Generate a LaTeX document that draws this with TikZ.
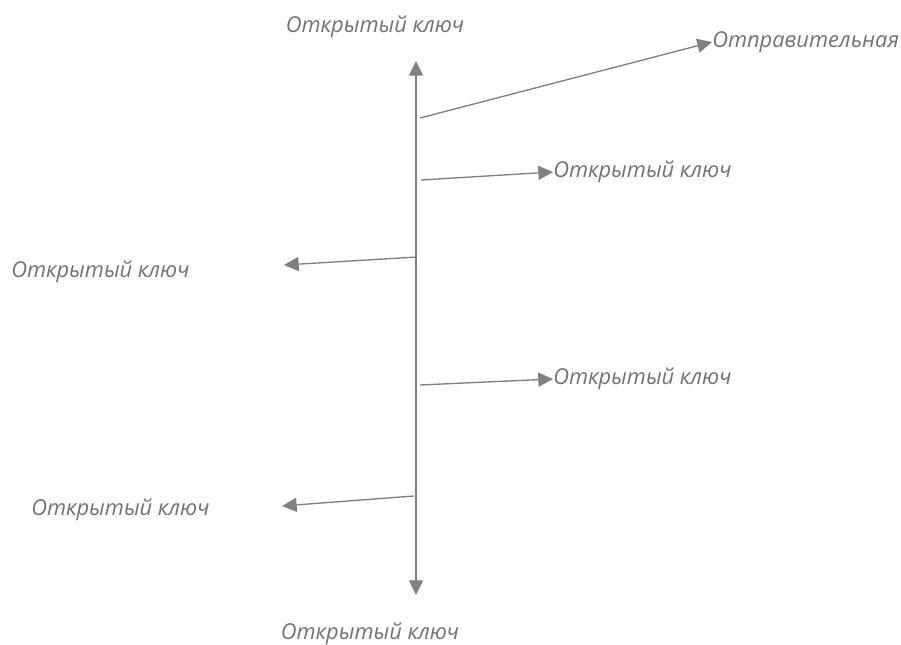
\documentclass[tikz,border=0pt]{standalone}
\usepackage{fontspec}
\setmainfont{Open Sans}
\usepackage{tikz}
\usetikzlibrary{arrows.meta,positioning}
\definecolor{ln}{HTML}{7F7F7F}
\definecolor{txt}{HTML}{737373}
\tikzset{
  keyarr/.style={draw=ln, line width=1pt, -{Triangle[length=11pt,width=10.5pt]}},
  axisarr/.style={draw=ln, line width=1pt, {Triangle[length=11pt,width=10.5pt]}-{Triangle[length=11pt,width=10.5pt]}},
  lbl/.style={text=txt, inner sep=0pt, font=\fontsize{16.4}{19}\selectfont\itshape},
}
\begin{document}
\begin{tikzpicture}[x=0.75pt,y=-0.75pt]
 \useasboundingbox (0,0) rectangle (901,645);
 % axis
 \coordinate (top) at (416,61);
 \coordinate (bot) at (416,595);
 \draw[axisarr] (top) -- (bot);
 \node[lbl] (ktop) at (375,27) {Открытый ключ};
 \node[lbl] (kbot) at (370,634) {Открытый ключ};
 % branches
 \coordinate (b1) at (420,118);
 \coordinate (b2) at (421,180);
 \coordinate (b3) at (417,257);
 \coordinate (b4) at (420,385);
 \coordinate (b5) at (414,496);
 \coordinate (t3) at (284,265);
 \coordinate (t5) at (282,506);
 \node[lbl,anchor=west] (send) at (712,42) {Отправительная};
 \node[lbl,anchor=west] (k2) at (553,172) {Открытый ключ};
 \node[lbl,anchor=west] (k4) at (553,379) {Открытый ключ};
 \node[lbl,anchor=west] (k3) at (11,272) {Открытый ключ};
 \node[lbl,anchor=west] (k5) at (31,510) {Открытый ключ};
 \draw[keyarr] (b1) -- (send.west);
 \draw[keyarr] (b2) -- (k2.west);
 \draw[keyarr] (b4) -- (k4.west);
 \draw[keyarr] (b3) -- (t3);
 \draw[keyarr] (b5) -- (t5);
\end{tikzpicture}
\end{document}
